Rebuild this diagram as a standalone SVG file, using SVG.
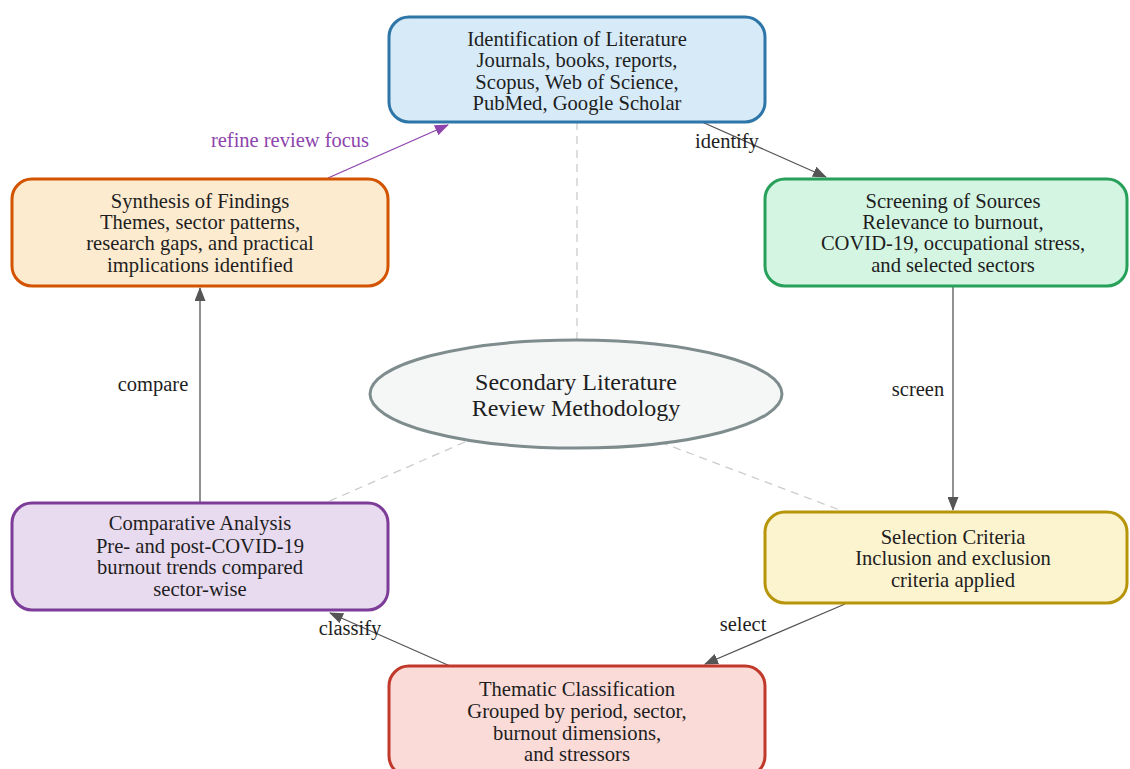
<svg xmlns="http://www.w3.org/2000/svg" width="1130" height="769" viewBox="0 0 1130 769">
<defs>
<marker id="ah" markerWidth="14" markerHeight="11" refX="13" refY="5.5" orient="auto" markerUnits="userSpaceOnUse" viewBox="0 0 14 11"><path d="M0,0 L14,5.5 L0,11 z" fill="#555"/></marker>
<marker id="ahp" markerWidth="14" markerHeight="11" refX="13" refY="5.5" orient="auto" markerUnits="userSpaceOnUse" viewBox="0 0 14 11"><path d="M0,0 L14,5.5 L0,11 z" fill="#8e44ad"/></marker>
<style>
text{font-family:"Liberation Serif","Times New Roman",serif;font-size:20.6px;fill:#1e1e1e;text-anchor:middle}
.lbl{font-size:20.5px}
.edge{stroke:#555;stroke-width:1.3;fill:none;marker-end:url(#ah)}
.dash{stroke:#ccc;stroke-width:1.3;stroke-dasharray:8 6;fill:none}
.box{stroke-width:3}
</style>
</defs>
<rect width="1130" height="769" fill="#fff"/>
<g id="connectors">
<line class="dash" x1="577" y1="340" x2="577" y2="123"/>
<line class="dash" x1="465" y1="442" x2="325" y2="503"/>
<line class="dash" x1="660" y1="442" x2="845" y2="512"/>
<line class="edge" x1="702" y1="122" x2="826" y2="177"/>
<line class="edge" x1="953" y1="287" x2="953" y2="510"/>
<line class="edge" x1="845" y1="604" x2="705" y2="664"/>
<line class="edge" x1="450" y1="666" x2="330" y2="613"/>
<line class="edge" x1="200" y1="503" x2="200" y2="288"/>
<line x1="328" y1="178" x2="448" y2="125" stroke="#8e44ad" stroke-width="1.3" marker-end="url(#ahp)"/>
<text class="lbl" x="727" y="148">identify</text>
<text class="lbl" x="918" y="396">screen</text>
<text class="lbl" x="743" y="631">select</text>
<text class="lbl" x="350" y="635">classify</text>
<text class="lbl" x="153" y="391">compare</text>
<text class="lbl" x="290" y="147" style="fill:#8e44ad">refine review focus</text>
</g>
<g id="center">
<ellipse cx="576" cy="394" rx="206" ry="54" fill="#f5f6f6" stroke="#7f8c8d" stroke-width="3"/>
<text x="576" y="390" style="font-size:24px">Secondary Literature</text>
<text x="576" y="416" style="font-size:24px">Review Methodology</text>
</g>
<g id="identification">
<rect class="box" x="389" y="17" width="376" height="105" rx="20" fill="#d6eaf8" stroke="#2e75a8"/>
<text x="577" y="46">Identification of Literature</text>
<text x="577" y="67">Journals, books, reports,</text>
<text x="577" y="89">Scopus, Web of Science,</text>
<text x="577" y="110">PubMed, Google Scholar</text>
</g>
<g id="screening">
<rect class="box" x="765" y="179" width="362" height="107" rx="20" fill="#d5f5e3" stroke="#27a05a"/>
<text x="953" y="208">Screening of Sources</text>
<text x="953" y="229">Relevance to burnout,</text>
<text x="953" y="250">COVID-19, occupational stress,</text>
<text x="953" y="272">and selected sectors</text>
</g>
<g id="selection">
<rect class="box" x="765" y="512" width="362" height="91" rx="20" fill="#fcf3cf" stroke="#b7950b"/>
<text x="953" y="544">Selection Criteria</text>
<text x="953" y="565">Inclusion and exclusion</text>
<text x="953" y="587">criteria applied</text>
</g>
<g id="thematic">
<rect class="box" x="389" y="666" width="376" height="110" rx="20" fill="#fadbd8" stroke="#c0392b"/>
<text x="577" y="696">Thematic Classification</text>
<text x="577" y="718">Grouped by period, sector,</text>
<text x="577" y="740">burnout dimensions,</text>
<text x="577" y="761">and stressors</text>
</g>
<g id="comparative">
<rect class="box" x="12" y="503" width="376" height="107" rx="20" fill="#e8daef" stroke="#7d3c98"/>
<text x="200" y="530">Comparative Analysis</text>
<text x="200" y="553">Pre- and post-COVID-19</text>
<text x="200" y="574">burnout trends compared</text>
<text x="200" y="596">sector-wise</text>
</g>
<g id="synthesis">
<rect class="box" x="12" y="179" width="376" height="107" rx="20" fill="#fdebd0" stroke="#d35400"/>
<text x="200" y="208">Synthesis of Findings</text>
<text x="200" y="229">Themes, sector patterns,</text>
<text x="200" y="250">research gaps, and practical</text>
<text x="200" y="272">implications identified</text>
</g>
</svg>
